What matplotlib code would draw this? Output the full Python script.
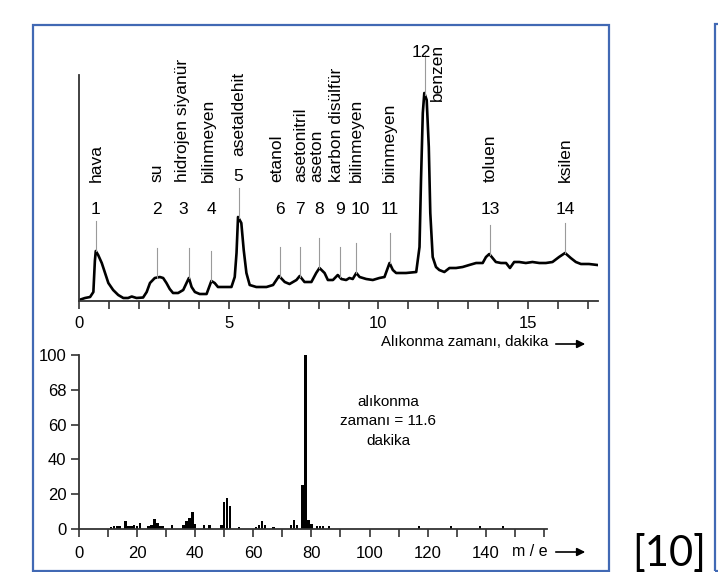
import numpy as np
import matplotlib
matplotlib.use('Agg')
import matplotlib.pyplot as plt
from matplotlib.patches import Rectangle

# chromatogram trace (retention time in min, detector signal in arbitrary units)
ret_time = [0.0, 0.2, 0.37, 0.48, 0.53, 0.56, 0.64, 0.76, 0.87, 0.98, 1.14, 1.31, 1.48, 1.64,
            1.76, 1.92, 2.14, 2.26, 2.37, 2.53, 2.7, 2.81, 2.92, 3.03, 3.14, 3.31, 3.48, 3.59,
            3.67, 3.76, 3.87, 4.03, 4.26, 4.42, 4.53, 4.64, 4.81, 5.09, 5.2, 5.26, 5.31, 5.42,
            5.5, 5.59, 5.7, 5.92, 6.26, 6.48, 6.68, 6.87, 7.03, 7.26, 7.37, 7.53, 7.76, 7.92,
            8.03, 8.2, 8.31, 8.48, 8.64, 8.76, 8.92, 9.03, 9.14, 9.26, 9.37, 9.59, 9.81, 10.03,
            10.2, 10.37, 10.48, 10.59, 10.92, 11.26, 11.37, 11.42, 11.48, 11.53, 11.61, 11.68,
            11.73, 11.81, 11.92, 12.03, 12.2, 12.37, 12.59, 12.81, 13.03, 13.26, 13.48, 13.59,
            13.7, 13.81, 13.92, 14.09, 14.26, 14.39, 14.53, 14.7, 14.92, 15.14, 15.37, 15.59,
            15.81, 16.03, 16.23, 16.42, 16.59, 16.76, 17.03, 17.31]
signal = [1, 3, 4, 9, 40, 50, 46, 38, 28, 18, 11, 6, 3, 3,
          4.5, 3, 3.5, 9, 18, 23, 24, 23, 18, 12, 8, 8, 11, 18,
          23, 14, 9, 7, 7, 20, 18, 14, 14, 14, 24, 48, 84, 78,
          51, 28, 16, 14, 14, 16, 25, 19, 17, 21, 25, 19, 19, 28,
          33, 28, 21, 21, 26, 22, 21, 23, 22, 28, 24, 22, 21, 23,
          24, 38, 31, 28, 28, 29, 54, 121, 188, 208, 201, 154,
          88, 44, 34, 31, 29, 33, 33, 34, 36, 38, 38, 44,
          47, 43, 39, 38, 38, 33, 39, 39, 38, 39, 38, 38,
          39, 44, 48, 43, 39, 37, 37, 36]

peak_nums = list(range(1, 15))
peak_names = ['hava', 'su', 'hidrojen siyanür', 'bilinmeyen', 'asetaldehit', 'etanol',
              'asetonitril', 'aseton', 'karbon disülfür', 'bilinmeyen', 'biinmeyen',
              'benzen', 'toluen', 'ksilen']
peak_times = [0.56, 2.59, 3.67, 4.42, 5.33, 6.7, 7.39, 8.03, 8.7, 9.26, 10.37, 11.55, 13.72, 16.23]

# mass spectrum at 11.6 min
mz = [11, 12, 13, 14, 16, 17, 18, 19, 20, 21, 24, 25, 26, 27, 28, 29, 32, 36, 37, 38, 39, 40,
      43, 45, 49, 50, 51, 52, 55, 61, 62, 63, 64, 67, 73, 74, 75, 77, 78, 79, 80, 82, 83, 84,
      86, 117, 128, 138, 146]
intensity = [1.3, 1.5, 1.5, 1.5, 4.4, 2, 2, 2.5, 2, 3.5, 1.5, 2.5, 6, 3.5, 2, 1.5, 2.3, 2.5,
             4.5, 6.5, 10, 3, 2.3, 2.3, 2.3, 15.3, 17.8, 13.4, 1.3, 1.3, 2.3, 4.8, 2.3, 1, 2.3,
             5.2, 2.3, 25.5, 100, 5.2, 3, 1.5, 1.5, 1.7, 1.5, 2, 2, 2, 2]
ms_yticks = [0, 20, 40, 60, 80, 100]
ms_yticklabels = ['0', '20', '40', '60', '68', '100']

FONT = ['Liberation Sans', 'DejaVu Sans']

W, H = 718, 572
fig = plt.figure(figsize=(W / 100, H / 100), dpi=100)


def px_axes(left, top, right, bottom):
    return fig.add_axes([left / W, 1 - bottom / H, (right - left) / W, (bottom - top) / H])


def style(ax):
    for s in ['top', 'right']:
        ax.spines[s].set_visible(False)
    for s in ['left', 'bottom']:
        ax.spines[s].set_color('#333333')
        ax.spines[s].set_linewidth(1.3)
    ax.set_facecolor('none')


# ---- chromatogram ----
ax1 = px_axes(79, 75, 598, 301)
style(ax1)
ax1.plot(ret_time, signal, color='black', lw=1.9, solid_joinstyle='round')
ax1.set_xlim(0, 17.33)
ax1.set_ylim(0, 226)
ax1.set_yticks([])
ax1.set_xticks(range(0, 18))
ax1.set_xticklabels([str(i) if i % 5 == 0 else '' for i in range(18)], family=FONT, fontsize=12)
ax1.tick_params(axis='x', direction='out', length=6, width=1.2, color='#333333', pad=5)

num_dx = {3: -0.2, 10: 0.15, 12: -0.13}
name_dx = {3: -0.2, 4: -0.1, 6: -0.1, 8: -0.1, 9: -0.1}
for num, name, t in zip(peak_nums, peak_names, peak_times):
    h = np.interp(t, ret_time, signal)
    top = h + (40 if num == 12 else 30)
    ax1.plot([t, t], [h, top], color='#9a9a9a', lw=0.8, clip_on=False)
    ax1.text(t + num_dx.get(num, 0), max(91, h + 42), str(num), ha='center', va='center',
             family=FONT, fontsize=12.5, clip_on=False)
    if num == 12:
        ax1.text(t + 0.42, 257, name, rotation=90, ha='center', va='top',
                 family=FONT, fontsize=12.5, clip_on=False)
    else:
        ax1.text(t + name_dx.get(num, 0), max(119, h + 62), name, rotation=90,
                 ha='center', va='bottom', family=FONT, fontsize=12.5, clip_on=False)

fig.text(548 / W, 1 - 342 / H, 'Alıkonma zamanı, dakika', ha='right', va='center',
         family=FONT, fontsize=10.8)
fig.add_artist(plt.Annotation('', xy=(588, H - 344), xytext=(553, H - 344),
                              xycoords='figure pixels',
                              arrowprops=dict(arrowstyle='-|>', color='black', lw=1.2,
                                              mutation_scale=12)))

# ---- mass spectrum ----
ax2 = px_axes(79, 355, 547, 529)
style(ax2)
ax2.bar(mz, intensity, width=0.85, color='black')
ax2.set_xlim(0, 161.1)
ax2.set_ylim(0, 100)
ax2.set_yticks(ms_yticks)
ax2.set_yticklabels(ms_yticklabels, family=FONT, fontsize=12)
ax2.set_xticks(range(0, 161, 10))
ax2.set_xticklabels([str(i) if i % 20 == 0 and i < 160 else '' for i in range(0, 161, 10)],
                    family=FONT, fontsize=12)
ax2.tick_params(axis='both', direction='out', length=6, width=1.2, color='#333333')
ax2.tick_params(axis='x', pad=6)
ax2.tick_params(axis='y', pad=3)

ax2.text(106.4, 62, 'alıkonma\nzamanı = 11.6\ndakika', ha='center', va='center',
         family=FONT, fontsize=11, linespacing=1.5)
fig.text(548 / W, 1 - 552 / H, 'm / e', ha='right', va='center', family=FONT, fontsize=11.5)
fig.add_artist(plt.Annotation('', xy=(588, H - 552), xytext=(553, H - 552),
                              xycoords='figure pixels',
                              arrowprops=dict(arrowstyle='-|>', color='black', lw=1.2,
                                              mutation_scale=12)))

# ---- slide frames ----
blue = '#4169b4'
fig.add_artist(Rectangle((33 / W, 1 - 571 / H), (609 - 33) / W, (571 - 25) / H,
                         transform=fig.transFigure, fill=False, ec=blue, lw=1.6))
fig.add_artist(Rectangle((715 / W, 1 - 571 / H), 40 / W, (571 - 24) / H,
                         transform=fig.transFigure, fill=False, ec=blue, lw=1.6))
fig.text(632 / W, 1 - 566 / H, '[10]', ha='left', va='baseline',
         family=['Lato', 'DejaVu Sans'], fontsize=30)

fig.savefig('out.png', dpi=100, facecolor='white')
